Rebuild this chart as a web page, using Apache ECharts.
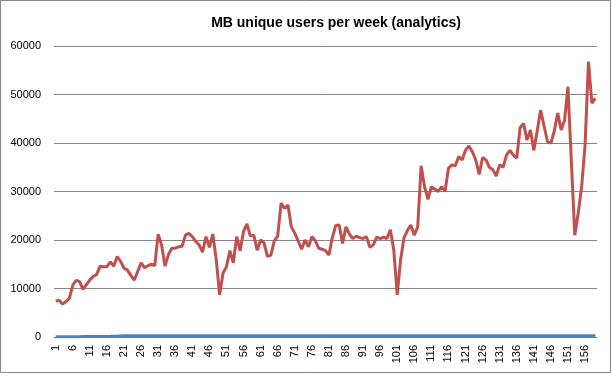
<!DOCTYPE html>
<html>
<head>
<meta charset="utf-8">
<script src="https://cdn.jsdelivr.net/npm/echarts@6/dist/echarts.min.js"></script>
<style>
  html, body { margin: 0; padding: 0; background: #fff; }
  #chart { width: 612px; height: 376px; }
</style>
</head>
<body>
<div id="chart"></div>
<script>
// week numbers 1..159
const weeks = Array.from({ length: 159 }, (_, i) => String(i + 1))

// unique users per week
const users = [
  7400, 7600, 6800, 7300, 8000, 10700, 11700, 11400, 9800, 10800,
  11800, 12500, 12900, 14600, 14500, 14500, 15500, 14600, 16600, 15600,
  14200, 13800, 12700, 11700, 13500, 15300, 14300, 14700, 15000, 14700,
  21200, 19000, 14600, 17000, 18300, 18300, 18600, 18700, 21000, 21400,
  20700, 19700, 19000, 17500, 20700, 18500, 21200, 16000, 8700, 13200,
  14500, 17800, 15300, 20700, 17800, 21800, 23300, 20800, 21000, 17900,
  20000, 19400, 16600, 16900, 19800, 20800, 27600, 26500, 27200, 22700,
  21400, 19800, 18100, 20000, 18600, 20700, 19900, 18300, 18100, 17800,
  16900, 20500, 23000, 23100, 19300, 22700, 21200, 20300, 20800, 20500,
  20300, 20700, 18500, 19000, 20600, 20300, 20600, 20300, 22100, 17900,
  8700, 16000, 20500, 22000, 23100, 21000, 22700, 35300, 31000, 28400,
  31000, 30500, 30000, 31000, 30000, 34800, 35500, 35300, 37200, 36500,
  38500, 39400, 38200, 36500, 33500, 37000, 36500, 35000, 34500, 33200,
  35500, 35000, 37500, 38500, 37500, 36900, 43200, 44000, 40600, 42700,
  38500, 42500, 46800, 43500, 40300, 40000, 42500, 46200, 42700, 44700,
  51600, 36000, 21000, 25500, 31000, 39500, 56800, 48200, 49200
]

// second series, hugging zero
const other = [
  40, 40, 50, 50, 60, 60, 70, 70, 80, 80,
  90, 90, 100, 100, 110, 120, 130, 150, 180, 220,
  260, 280, 280, 280, 280, 280, 280, 280, 280, 280,
  280, 280, 280, 280, 280, 280, 280, 280, 280, 280,
  280, 280, 280, 280, 280, 280, 280, 280, 280, 280,
  280, 280, 280, 280, 280, 280, 280, 280, 280, 280,
  280, 280, 280, 280, 280, 280, 280, 280, 280, 280,
  280, 280, 280, 280, 280, 280, 280, 280, 280, 280,
  280, 280, 280, 280, 280, 280, 280, 280, 280, 280,
  280, 280, 280, 280, 280, 280, 280, 280, 280, 280,
  280, 280, 280, 280, 280, 280, 280, 280, 280, 280,
  280, 280, 280, 280, 280, 280, 280, 280, 280, 280,
  280, 280, 280, 280, 280, 280, 280, 280, 280, 280,
  280, 280, 280, 280, 280, 280, 280, 280, 280, 280,
  280, 280, 280, 280, 280, 280, 280, 280, 280, 280,
  280, 280, 280, 280, 280, 280, 280, 280, 280
]

const yTicks = { min: 0, max: 60000, step: 10000 }

const chart = echarts.init(document.getElementById('chart'), null, { renderer: 'canvas' })

chart.setOption({
  animation: false,
  title: {
    text: 'MB unique users per week (analytics)',
    left: 331,
    textAlign: 'center',
    top: 11,
    textStyle: { fontFamily: 'Liberation Sans', fontSize: 14, fontWeight: 'bold', color: '#000' }
  },
  graphic: [{
    type: 'rect',
    shape: { x: 0.5, y: 0.5, width: 610, height: 372 },
    style: { fill: 'none', stroke: '#868686', lineWidth: 1 },
    silent: true
  }],
  grid: { left: 54, right: 15, top: 46, bottom: 39 },
  xAxis: {
    type: 'category',
    data: weeks,
    boundaryGap: true,
    axisLine: { lineStyle: { color: '#868686' } },
    axisTick: { show: false },
    axisLabel: {
      interval: 4,
      rotate: 90,
      fontFamily: 'Liberation Sans',
      fontSize: 11,
      color: '#000',
      margin: 8
    }
  },
  yAxis: {
    type: 'value',
    min: yTicks.min,
    max: yTicks.max,
    interval: yTicks.step,
    axisLine: { show: false },
    axisTick: { show: false },
    splitLine: { lineStyle: { color: '#868686', width: 1 } },
    axisLabel: {
      fontFamily: 'Liberation Sans',
      fontSize: 11,
      color: '#000',
      margin: 13,
      formatter: v => String(v)
    }
  },
  series: [
    {
      name: 'other',
      type: 'line',
      data: other,
      symbol: 'none',
      lineStyle: { color: '#4F81BD', width: 3 },
      z: 3
    },
    {
      name: 'unique users',
      type: 'line',
      data: users,
      symbol: 'none',
      lineStyle: { color: '#C0504D', width: 3 },
      z: 4
    }
  ]
})
</script>
</body>
</html>
